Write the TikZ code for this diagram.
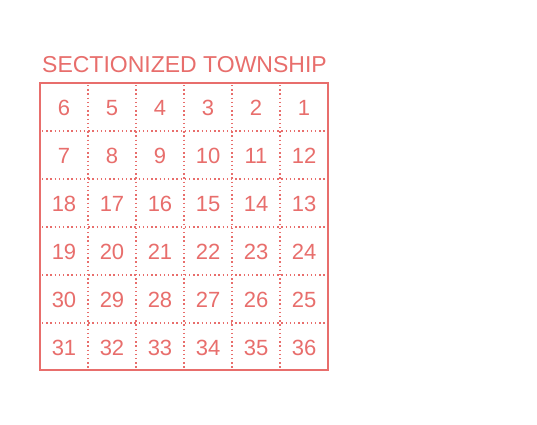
\documentclass[tikz,border=0pt]{standalone}
\usepackage{fontspec}
\setmainfont{Liberation Sans}
\definecolor{survey}{HTML}{E86E6C}
\begin{document}
\begin{tikzpicture}[x=1pt,y=-1pt,
  outline/.style={draw=survey,line width=2pt},
  grid/.style={draw=survey,line width=1.3pt,dash pattern=on 1.3pt off 2.9pt},
  num/.style={text=survey,font=\fontsize{22}{22}\selectfont,inner sep=0pt,anchor=base},
  title/.style={text=survey,font=\fontsize{23}{23}\selectfont,inner sep=0pt,anchor=base west}]
\useasboundingbox[fill=white] (0,0) rectangle (537,424);
\node[title] (t) at (42,72) {SECTIONIZED TOWNSHIP};
\coordinate (nw) at (40,83);
\coordinate (se) at (328,370);
\foreach \i in {1,...,5}{
  \coordinate (vt\i) at ({40+48*\i},85);
  \coordinate (vb\i) at ({40+48*\i},368);
  \coordinate (hl\i) at (42,{83+48*\i});
  \coordinate (hr\i) at (326,{83+48*\i});
  \draw[grid] (vt\i) -- (vb\i);
  \draw[grid] (hl\i) -- (hr\i);
}
\draw[outline] (nw) rectangle (se);
\foreach \r/\row in {0/{6,5,4,3,2,1},1/{7,8,9,10,11,12},2/{18,17,16,15,14,13},3/{19,20,21,22,23,24},4/{30,29,28,27,26,25},5/{31,32,33,34,35,36}}{
  \foreach \n [count=\c from 0] in \row {
    \node[num] (s\n) at ({64+48*\c},{115.5+48*\r}) {\n};
  }
}
\end{tikzpicture}
\end{document}
